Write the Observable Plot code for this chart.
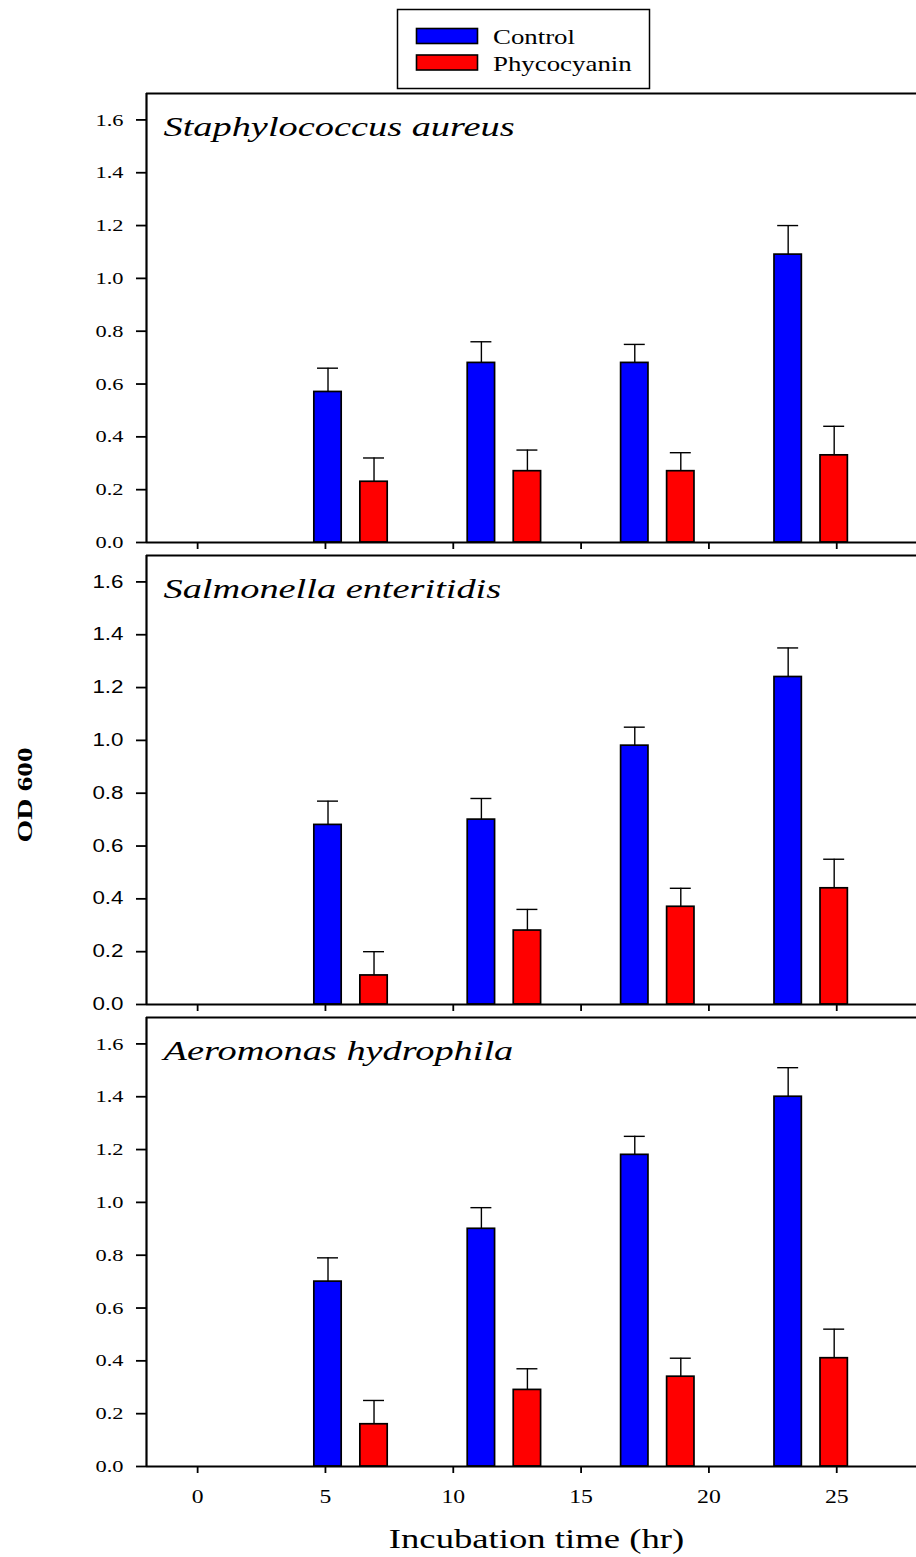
<!DOCTYPE html>
<html><head><meta charset="utf-8">
<script src="https://cdn.jsdelivr.net/npm/d3@7"></script>
<script src="https://cdn.jsdelivr.net/npm/@observablehq/plot@0.6"></script>
<style>
body{margin:0;background:#fff;}
#chart{position:relative;width:916px;height:1557px;overflow:hidden;background:#fff;}
#chart svg{position:absolute;left:0;overflow:visible;background:transparent;}
</style></head><body><div id="chart"></div>
<script>
// ---- data ----
const times = [6, 12, 18, 24];
const treatments = ["Control", "Phycocyanin"];
const species = ["Staphylococcus aureus", "Salmonella enteritidis", "Aeromonas hydrophila"];
const controlMean = [[0.57, 0.68, 0.68, 1.09], [0.68, 0.70, 0.98, 1.24], [0.70, 0.90, 1.18, 1.40]];
const controlErr  = [[0.09, 0.08, 0.07, 0.11], [0.09, 0.08, 0.07, 0.11], [0.09, 0.08, 0.07, 0.11]];
const phycoMean   = [[0.23, 0.27, 0.27, 0.33], [0.11, 0.28, 0.37, 0.44], [0.16, 0.29, 0.34, 0.41]];
const phycoErr    = [[0.09, 0.08, 0.07, 0.11], [0.09, 0.08, 0.07, 0.11], [0.09, 0.08, 0.07, 0.11]];
const xTicks = [0, 5, 10, 15, 20, 25];
const yTicks = [0, 0.2, 0.4, 0.6, 0.8, 1.0, 1.2, 1.4, 1.6];
const xLabel = "Incubation time (hr)";
const yLabel = "OD 600";

// ---- style / layout ----
const colors = ["#0000ff", "#ff0000"];
const SERIF = "Liberation Serif, Times New Roman, serif";
const SANS = "Liberation Sans, Arial, sans-serif";
const offset = {Control: -0.9, Phycocyanin: 0.9};
const halfW = 0.535, capHalf = 0.41;
const panelStep = 462, firstTop = 91;
const yFmt = d3.format(".1f");

const chart = document.getElementById("chart");

species.forEach((name, i) => {
  const rows = [];
  times.forEach((t, j) => {
    rows.push({t, treatment: "Control", mean: controlMean[i][j], err: controlErr[i][j]});
    rows.push({t, treatment: "Phycocyanin", mean: phycoMean[i][j], err: phycoErr[i][j]});
  });
  rows.forEach(d => d.xc = d.t + offset[d.treatment]);
  const last = i === species.length - 1;
  const plot = Plot.plot({
    width: 916,
    height: last ? 542 : 462,
    marginLeft: 146, marginRight: 0, marginTop: 2, marginBottom: last ? 91 : 11,
    x: {domain: [-2, 28.12], axis: null},
    y: {domain: [0, 1.7], axis: null},
    color: {domain: treatments, range: colors},
    style: {fontFamily: SERIF, fontSize: "18px", color: "black", background: "transparent"},
    marks: [
      Plot.rect(rows, {x1: d => d.xc - halfW, x2: d => d.xc + halfW, y1: 0, y2: "mean",
        fill: "treatment", stroke: "black", strokeWidth: 1.7}),
      Plot.ruleX(rows, {x: "xc", y1: "mean", y2: d => d.mean + d.err, stroke: "black", strokeWidth: 1.4}),
      Plot.ruleY(rows, {y: d => d.mean + d.err, x1: d => d.xc - capHalf, x2: d => d.xc + capHalf, stroke: "black", strokeWidth: 1.4}),
      Plot.ruleX([-2], {stroke: "black", strokeWidth: 2.2}),
      Plot.ruleY([0, 1.7], {stroke: "black", strokeWidth: 2.2}),
      Plot.axisY({ticks: yTicks, tickSize: 10, tickPadding: 13, tickFormat: yFmt,
        label: null, strokeWidth: 1.8}),
      Plot.axisX({ticks: xTicks, tickSize: 7, tickPadding: 16, label: null, strokeWidth: 1.8,
        tickFormat: last ? d => String(d) : () => ""}),
      Plot.text([name], {text: d => d, frameAnchor: "top-left", dx: 17, dy: 42, lineAnchor: "bottom",
        textAnchor: "start", fontStyle: "italic", fontSize: 28, fontFamily: SERIF}),
      ...(i === 1 ? [Plot.text([yLabel], {text: d => d, frameAnchor: "left", dx: -122, dy: 15, rotate: -90,
        lineAnchor: "middle", textAnchor: "middle", fontWeight: "bold", fontSize: 22, fontFamily: SERIF})] : []),
      ...(last ? [Plot.text([xLabel], {text: d => d, frameAnchor: "bottom", dx: 5, dy: 81, lineAnchor: "bottom",
        textAnchor: "middle", fontSize: 28, fontFamily: SERIF})] : [])
    ]
  });
  plot.style.top = (firstTop + i * panelStep) + "px";
  const yLabels = yTicks.map(yFmt), xLabels = xTicks.map(String);
  d3.select(plot).selectAll("text").each(function() {
    const txt = this.textContent;
    if (yLabels.includes(txt)) {
      this.style.fontSize = "17.5px";
      this.style.fontFamily = i === 1 ? SANS : SERIF;
    } else if (xLabels.includes(txt)) {
      this.style.fontSize = "18.5px";
      this.style.fontFamily = SERIF;
    }
  });
  chart.appendChild(plot);
});

// ---- legend ----
const lg = d3.create("svg").attr("width", 916).attr("height", 92).style("top", "0px");
lg.append("rect").attr("x", 397.5).attr("y", 9.5).attr("width", 252).attr("height", 79)
  .attr("fill", "white").attr("stroke", "black").attr("stroke-width", 1.5);
treatments.forEach((t, k) => {
  lg.append("rect").attr("x", 416.5).attr("y", 28.5 + k * 26.5).attr("width", 61).attr("height", 15)
    .attr("fill", colors[k]).attr("stroke", "black").attr("stroke-width", 1.6);
  lg.append("text").attr("x", 493).attr("y", 44 + k * 26.5).text(t)
    .attr("font-family", SERIF).attr("font-size", 22).attr("fill", "black").attr("data-f", "1.22");
});
chart.appendChild(lg.node());

// ---- widen text like the original ----
d3.select(chart).selectAll("text").each(function() {
  const txt = this.textContent;
  if (!txt) return;
  let f = 1.28;
  if (species.includes(txt)) f = 1.37;
  if (this.getAttribute("data-f")) f = +this.getAttribute("data-f");
  if (txt === yLabel) f = 1.33;
  if (txt === xLabel) f = 1.31;
  const L = this.getComputedTextLength();
  if (L > 0) {
    this.setAttribute("textLength", (L * f).toFixed(1));
    this.setAttribute("lengthAdjust", "spacingAndGlyphs");
  }
});
</script></body></html>
